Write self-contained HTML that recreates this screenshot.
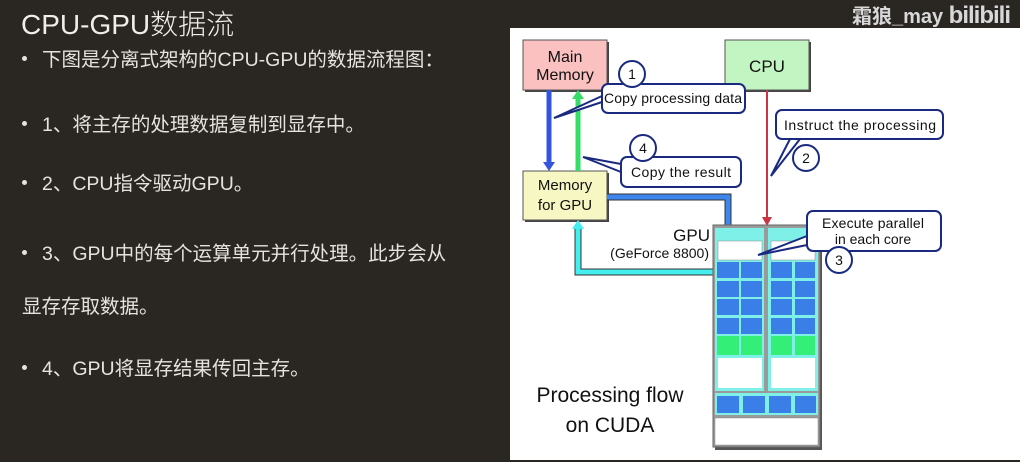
<!DOCTYPE html>
<html><head><meta charset="utf-8"><style>
html,body{margin:0;padding:0;}
body{width:1020px;height:462px;background:#2a2723;position:relative;overflow:hidden;font-family:"Liberation Sans","Noto Sans CJK SC",sans-serif;color:#e6e3de;}
.t{position:absolute;white-space:nowrap;}
.title{left:21px;top:3px;font-size:28px;color:#f0eee8;font-weight:300;}
.b{font-size:19.5px;}
.dot{position:absolute;width:5px;height:5px;border-radius:50%;background:#e6e3de;}
.wm{right:10px;top:0px;font-size:20px;color:#d8d8d8;font-weight:bold;}
</style></head><body>
<div class="t title">CPU-GPU数据流</div>
<div class="dot" style="left:22px;top:56px"></div><div class="t b" style="left:42px;top:43px">下图是分离式架构的CPU-GPU的数据流程图：</div>
<div class="dot" style="left:22px;top:121px"></div><div class="t b" style="left:42px;top:108px">1、将主存的处理数据复制到显存中。</div>
<div class="dot" style="left:22px;top:180px"></div><div class="t b" style="left:42px;top:167px">2、CPU指令驱动GPU。</div>
<div class="dot" style="left:22px;top:250px"></div><div class="t b" style="left:42px;top:237px">3、GPU中的每个运算单元并行处理。此步会从</div>
<div class="t b" style="left:22px;top:290px">显存存取数据。</div>
<div class="dot" style="left:22px;top:365px"></div><div class="t b" style="left:42px;top:352px">4、GPU将显存结果传回主存。</div>
<div class="t wm">霜狼_may&nbsp;<span style="font-size:24px;letter-spacing:-1px">bilibili</span></div>
<svg style="position:absolute;left:0;top:0" width="1020" height="462" font-family="Liberation Sans, sans-serif">
<rect x="510" y="28" width="510" height="432" fill="#fff"/>
<rect x="525" y="42" width="84" height="50" fill="#444"/>
<rect x="523" y="40" width="84" height="50" fill="#fbc0c0" stroke="#555" stroke-width="1"/>
<text x="565" y="62" font-size="16" text-anchor="middle" fill="#111">Main</text>
<text x="565" y="80" font-size="16" text-anchor="middle" fill="#111">Memory</text>
<rect x="727" y="42" width="84" height="50" fill="#444"/>
<rect x="725" y="40" width="84" height="50" fill="#c2f5c2" stroke="#555"/>
<text x="767" y="72" font-size="17" text-anchor="middle" fill="#111">CPU</text>
<rect x="525" y="173" width="84" height="49" fill="#444"/>
<rect x="523" y="171" width="84" height="49" fill="#f7f7c4" stroke="#555"/>
<text x="565" y="190" font-size="15" text-anchor="middle" fill="#111">Memory</text>
<text x="565" y="210" font-size="15" text-anchor="middle" fill="#111">for GPU</text>
<line x1="549" y1="90" x2="549" y2="163" stroke="#3355dd" stroke-width="5"/>
<polygon points="543,162 555,162 549,171" fill="#3355dd"/>
<line x1="578" y1="171" x2="578" y2="98" stroke="#33dd66" stroke-width="5"/>
<polygon points="572,99 584,99 578,90" fill="#33dd66"/>
<line x1="767" y1="90" x2="767" y2="218" stroke="#cc3344" stroke-width="2"/>
<polygon points="762,217 772,217 767,226" fill="#cc3344"/>
<path d="M607,197 H728 V262" fill="none" stroke="#333" stroke-width="7"/>
<path d="M607,197 H728 V262" fill="none" stroke="#3f85ee" stroke-width="5"/>
<path d="M728,249 H752 V262" fill="none" stroke="#3f85ee" stroke-width="4"/>
<polygon points="723,260 733,260 728,267" fill="#3f85ee"/>
<polygon points="747,260 757,260 752,267" fill="#3f85ee"/>
<path d="M714,272 H578 V228" fill="none" stroke="#333" stroke-width="7"/>
<path d="M714,272 H578 V228" fill="none" stroke="#44eeee" stroke-width="5"/>
<polygon points="572,229 584,229 578,220" fill="#44eeee"/>
<text x="710" y="241" font-size="17" text-anchor="end" fill="#111">GPU</text>
<text x="709" y="258" font-size="14" text-anchor="end" fill="#111">(GeForce 8800)</text>
<rect x="715" y="227" width="107" height="223" fill="#555"/>
<rect x="713" y="225" width="107" height="222" fill="#9a9a9a" stroke="#666"/>
<rect x="715" y="228" width="49" height="163" fill="#7ff0e8"/>
<rect x="768" y="228" width="50" height="163" fill="#7ff0e8"/>
<rect x="718" y="241" width="44" height="19" fill="#fff" stroke="#888" stroke-width=".5"/>
<rect x="771" y="241" width="44" height="19" fill="#fff" stroke="#888" stroke-width=".5"/>
<g fill="#3a7fe8">
<rect x="717" y="262" width="22" height="16"/><rect x="741" y="262" width="21" height="16"/><rect x="771" y="262" width="21" height="16"/><rect x="795" y="262" width="20" height="16"/>
<rect x="717" y="281" width="22" height="16"/><rect x="741" y="281" width="21" height="16"/><rect x="771" y="281" width="21" height="16"/><rect x="795" y="281" width="20" height="16"/>
<rect x="717" y="299" width="22" height="16"/><rect x="741" y="299" width="21" height="16"/><rect x="771" y="299" width="21" height="16"/><rect x="795" y="299" width="20" height="16"/>
<rect x="717" y="318" width="22" height="16"/><rect x="741" y="318" width="21" height="16"/><rect x="771" y="318" width="21" height="16"/><rect x="795" y="318" width="20" height="16"/>
</g>
<g fill="#33ee77">
<rect x="717" y="336" width="22" height="19"/><rect x="741" y="336" width="21" height="19"/><rect x="771" y="336" width="21" height="19"/><rect x="795" y="336" width="20" height="19"/>
</g>
<rect x="718" y="358" width="44" height="30" fill="#fff"/>
<rect x="771" y="358" width="44" height="30" fill="#fff"/>
<rect x="715" y="393" width="103" height="22" fill="#7ff0e8"/>
<g fill="#3a7fe8"><rect x="717" y="396" width="22" height="17"/><rect x="743" y="396" width="22" height="17"/><rect x="769" y="396" width="22" height="17"/><rect x="795" y="396" width="21" height="17"/></g>
<rect x="715" y="418" width="103" height="27" fill="#fff" stroke="#888" stroke-width=".5"/>
<g stroke="#1a2a80" stroke-width="2" fill="#fff">
<polyline points="602,102 554,118 602,96" />
<rect x="602" y="84" width="143" height="29" rx="6"/>
<circle cx="632" cy="74" r="13"/>
<polyline points="621,172 583,157 621,164"/>
<rect x="621" y="157" width="120" height="30" rx="6"/>
<circle cx="643" cy="148" r="13"/>
<polyline points="800,139 771,176 790,139"/>
<rect x="776" y="110" width="167" height="29" rx="6"/>
<circle cx="806" cy="158" r="13"/>
<polyline points="807,236 758,255 807,245"/>
<rect x="807" y="211" width="134" height="40" rx="6"/>
<circle cx="839" cy="260" r="13"/>
</g>
<g font-size="14" fill="#111" text-anchor="middle">
<text x="632" y="79">1</text><text x="643" y="153">4</text><text x="806" y="163">2</text><text x="839" y="265">3</text>
<text x="673" y="103" textLength="138">Copy processing data</text>
<text x="681" y="177" textLength="100">Copy the result</text>
<text x="860" y="130" textLength="152">Instruct the processing</text>
<text x="873" y="228" textLength="102">Execute parallel</text>
<text x="873" y="244">in each core</text>
</g>
<text x="610" y="402" font-size="21" text-anchor="middle" fill="#111">Processing flow</text>
<text x="610" y="432" font-size="21" text-anchor="middle" fill="#111">on CUDA</text>
</svg>
</body></html>
